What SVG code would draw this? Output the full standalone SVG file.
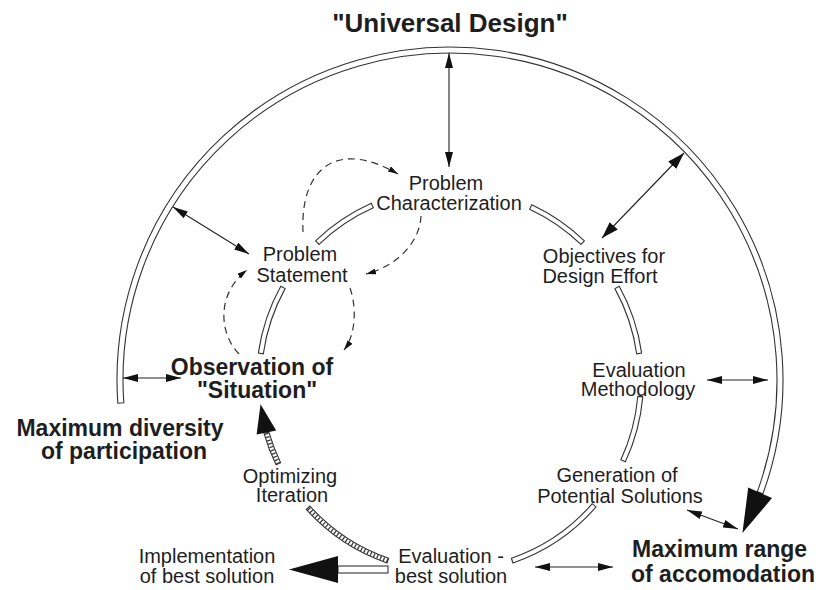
<svg xmlns="http://www.w3.org/2000/svg" width="822" height="590" viewBox="0 0 822 590">
  <style>
    .lbl{font-family:"Liberation Sans",Arial,Helvetica,sans-serif;font-size:20px;fill:#1e1e1e;text-anchor:middle}
    .bold{font-weight:bold;font-size:23px}
    .title{font-weight:bold;font-size:26px}
    .band{fill:#fff;stroke:#333;stroke-width:1.1;stroke-linejoin:miter}
    .hatch{fill:none;stroke:#3a3a3a;stroke-width:4;stroke-dasharray:1.3 2.2}
    .thin{fill:none;stroke:#222;stroke-width:1.1}
    .dash{fill:none;stroke:#333;stroke-width:1.2;stroke-dasharray:7 5}
    .head{fill:#111}
  </style>
  <defs>
    <marker id="ah" viewBox="0 0 15 8" refX="15" refY="4" markerWidth="15" markerHeight="8" markerUnits="userSpaceOnUse" orient="auto-start-reverse">
      <path class="head" d="M0,0 L15,4 L0,8 z"/>
    </marker>
    <marker id="ahL" viewBox="0 0 17 11" refX="17" refY="5.5" markerWidth="17" markerHeight="11" markerUnits="userSpaceOnUse" orient="auto-start-reverse">
      <path class="head" d="M0,0 L17,5.5 L0,11 z"/>
    </marker>
    <marker id="ahS" viewBox="0 0 10 6" refX="10" refY="3" markerWidth="10" markerHeight="6" markerUnits="userSpaceOnUse" orient="auto">
      <path class="head" d="M0,0 L10,3 L0,6 z"/>
    </marker>
  </defs>
  <rect width="822" height="590" fill="#fff"/>

  <g id="connectors">
    <!-- outer sweep: participation to accommodation -->
    <path class="band" d="M117.81,403.23 A333,333 0 1 1 762.92,493.89 L757.28,491.84 A327,327 0 1 0 123.80,402.81 Z"/>
    <polygon class="head" points="742.45,532.89 772.00,498.12 748.20,487.62"/>

    <!-- inner design cycle bands -->
    <path class="band" d="M258.38,353.07 A193.5,193.5 0 0 1 280.76,286.19 L285.13,288.61 A188.5,188.5 0 0 0 263.33,353.77 Z"/>
    <path class="band" d="M315.58,240.81 A193.5,193.5 0 0 1 371.30,203.23 L373.33,207.80 A188.5,188.5 0 0 0 319.06,244.40 Z"/>
    <path class="band" d="M531.78,204.63 A193.5,193.5 0 0 1 584.42,240.81 L580.94,244.40 A188.5,188.5 0 0 0 529.66,209.16 Z"/>
    <path class="band" d="M619.24,286.19 A193.5,193.5 0 0 1 641.62,353.07 L636.67,353.77 A188.5,188.5 0 0 0 614.87,288.61 Z"/>
    <path class="band" d="M642.76,396.86 A193.5,193.5 0 0 1 625.37,461.78 L620.84,459.66 A188.5,188.5 0 0 0 637.78,396.43 Z"/>
    <path class="band" d="M596.04,506.95 A193.5,193.5 0 0 1 513.00,562.96 L511.37,558.23 A188.5,188.5 0 0 0 592.26,503.67 Z"/>

    <!-- optimizing iteration (hatched) -->
    <path class="band" d="M387.00,562.96 A193.5,193.5 0 0 1 306.20,509.48 L309.92,506.13 A188.5,188.5 0 0 0 388.63,558.23 Z"/>
    <path class="hatch" d="M387.82,560.59 A191,191 0 0 1 308.06,507.81"/>
    <path class="band" d="M276.08,464.83 A193.5,193.5 0 0 1 264.00,433.34 L268.80,431.96 A188.5,188.5 0 0 0 280.58,462.63 Z"/>
    <path class="hatch" d="M278.33,463.73 A191,191 0 0 1 266.40,432.65"/>
    <polygon class="head" points="260.55,404.27 276.20,430.60 256.60,434.60"/>

    <!-- implementation output -->
    <rect class="band" x="338" y="566" width="50" height="7"/>
    <polygon class="head" points="289,569.5 338,556 338,583"/>

    <!-- two-way relations -->
    <line class="thin" x1="449" y1="53" x2="449" y2="167" marker-start="url(#ah)" marker-end="url(#ah)"/>
    <line class="thin" x1="684" y1="153" x2="602" y2="238" marker-start="url(#ahL)" marker-end="url(#ahL)"/>
    <line class="thin" x1="173" y1="207" x2="249" y2="254" marker-start="url(#ah)" marker-end="url(#ah)"/>
    <line class="thin" x1="123" y1="378" x2="181" y2="378" marker-start="url(#ah)" marker-end="url(#ah)"/>
    <line class="thin" x1="707" y1="380" x2="768" y2="380" marker-start="url(#ah)" marker-end="url(#ah)"/>
    <line class="thin" x1="535" y1="567" x2="613" y2="567" marker-start="url(#ah)" marker-end="url(#ah)"/>
    <line class="thin" x1="687" y1="510" x2="738" y2="529" marker-start="url(#ah)" marker-end="url(#ah)"/>

    <!-- feedback loops -->
    <path class="dash" d="M303,232 C300,165 340,140 398,174" marker-end="url(#ahS)"/>
    <path class="dash" d="M421,216 C420,240 400,265 366,274" marker-end="url(#ahS)"/>
    <path class="dash" d="M239,354 C220,335 215,295 247,270" marker-end="url(#ahS)"/>
    <path class="dash" d="M350,288 C356,305 357,333 344,350" marker-end="url(#ahS)"/>
  </g>

  <g id="title"><text class="lbl title" x="450" y="32">"Universal Design"</text></g>
  <g id="problem-characterization"><text class="lbl" x="446" y="190">Problem</text><text class="lbl" x="449" y="210">Characterization</text></g>
  <g id="problem-statement"><text class="lbl" x="300" y="261">Problem</text><text class="lbl" x="302" y="282">Statement</text></g>
  <g id="objectives"><text class="lbl" x="604" y="263">Objectives for</text><text class="lbl" x="600" y="283">Design Effort</text></g>
  <g id="evaluation-methodology"><text class="lbl" x="639" y="377">Evaluation</text><text class="lbl" x="638" y="396">Methodology</text></g>
  <g id="generation"><text class="lbl" x="617" y="482">Generation of</text><text class="lbl" x="620" y="503">Potential Solutions</text></g>
  <g id="evaluation-best"><text class="lbl" x="451" y="563">Evaluation -</text><text class="lbl" x="451" y="583">best solution</text></g>
  <g id="implementation"><text class="lbl" x="207" y="563">Implementation</text><text class="lbl" x="207" y="583">of best solution</text></g>
  <g id="optimizing"><text class="lbl" x="290" y="483">Optimizing</text><text class="lbl" x="292" y="502">Iteration</text></g>
  <g id="observation"><text class="lbl bold" x="252" y="375">Observation of</text><text class="lbl bold" x="257" y="398">"Situation"</text></g>
  <g id="diversity"><text class="lbl bold" x="120" y="436">Maximum diversity</text><text class="lbl bold" x="124" y="459">of participation</text></g>
  <g id="accommodation"><text class="lbl bold" x="632" y="557" style="text-anchor:start">Maximum range</text><text class="lbl bold" x="631" y="582" style="text-anchor:start">of accomodation</text></g>
</svg>
